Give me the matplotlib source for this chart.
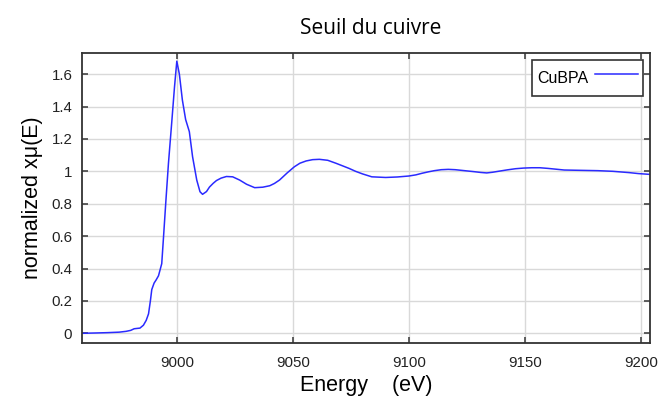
import matplotlib
matplotlib.use("Agg")
import matplotlib.pyplot as plt

# CuBPA normalized absorption
energy = [8959, 8965, 8970, 8975, 8978, 8980, 8981.5, 8982.7, 8984, 8985.5,
          8986.7, 8987.7, 8988.5, 8989.1, 8990.1, 8991, 8992, 8993.4, 8994.1,
          8995.2, 8996.3, 8997.7, 8998.9, 8999.9, 9001, 9002.3, 9003.7, 9005.3,
          9006.7, 9008.5, 9009.9, 9011, 9012.7, 9014, 9015.6, 9017, 9019, 9021.3,
          9024, 9027, 9030, 9033.5, 9037, 9040, 9042, 9044.2, 9047.5, 9050.6,
          9053, 9055.7, 9058.5, 9061.4, 9065, 9068.5, 9071, 9074.2, 9077, 9080,
          9084, 9090, 9095, 9100, 9103, 9105.7, 9108.5, 9111, 9114, 9117, 9120,
          9124, 9128, 9131, 9133.6, 9136, 9139, 9142.5, 9146, 9149.5, 9153,
          9156.5, 9160, 9163.5, 9167, 9174, 9181.5, 9188, 9195, 9199, 9204]
mu = [0.0, 0.002, 0.004, 0.007, 0.012, 0.018, 0.028, 0.03, 0.032, 0.05,
      0.08, 0.12, 0.2, 0.27, 0.31, 0.33, 0.355, 0.43, 0.58,
      0.82, 1.05, 1.30, 1.52, 1.68, 1.60, 1.44, 1.32, 1.245,
      1.09, 0.946, 0.874, 0.858, 0.875, 0.903, 0.926, 0.943, 0.958, 0.968,
      0.966, 0.946, 0.92, 0.899, 0.902, 0.911, 0.925, 0.946, 0.99, 1.028,
      1.05, 1.064, 1.072, 1.074, 1.068, 1.05, 1.036, 1.018, 1.0, 0.984,
      0.966, 0.962, 0.965, 0.971, 0.978, 0.988, 0.997, 1.004, 1.01, 1.012,
      1.01, 1.004, 0.998, 0.993, 0.99, 0.994, 1.001, 1.009, 1.016, 1.02, 1.022,
      1.022, 1.018, 1.013, 1.008, 1.006, 1.004, 1.0, 0.992, 0.986, 0.981]

xticks = [9000, 9050, 9100, 9150, 9200]
yticks = [0, 0.2, 0.4, 0.6, 0.8, 1.0, 1.2, 1.4, 1.6]
yticklabels = ["0", "0.2", "0.4", "0.6", "0.8", "1", "1.2", "1.4", "1.6"]

plt.rcParams['font.family'] = ['Liberation Sans', 'DejaVu Sans']

fig = plt.figure(figsize=(6.65, 3.96), dpi=100)
ax = fig.add_axes([0.1233, 0.1338, 0.8541, 0.7322])

ax.plot(energy, mu, color='#2a2aff', lw=1.1, label='CuBPA')

ax.set_xlim(8959, 9204)
ax.set_ylim(-0.06, 1.73)
ax.set_xticks(xticks)
ax.set_yticks(yticks)
ax.set_yticklabels(yticklabels)
ax.grid(True, color='#d9d9d9', lw=1.0)
ax.set_axisbelow(True)

ax.tick_params(direction='in', length=4, width=1.2, color='#444444',
               top=True, right=True, labelsize=10.8, labelcolor='#222222')
ax.tick_params(axis='x', pad=9)
ax.tick_params(axis='y', pad=7)
for s in ax.spines.values():
    s.set_color('#333333')
    s.set_linewidth(1.3)

ax.set_xlabel('Energy    (eV)', fontsize=15.5, labelpad=4)
ax.set_ylabel('normalized xμ(E)', fontsize=15.5, labelpad=6)
fig.text(0.558, 0.928, 'Seuil du cuivre', fontsize=15, family='Open Sans',
         ha='center', va='center')

leg = ax.legend(loc='upper right', bbox_to_anchor=(0.988, 0.976),
                fancybox=False, framealpha=1, edgecolor='#333333',
                fontsize=11.5, markerfirst=False, handlelength=2.7,
                handleheight=2.2, borderpad=0.3, handletextpad=0.45,
                borderaxespad=0)
leg.get_frame().set_linewidth(1.2)

fig.savefig('out.png', dpi=100)
